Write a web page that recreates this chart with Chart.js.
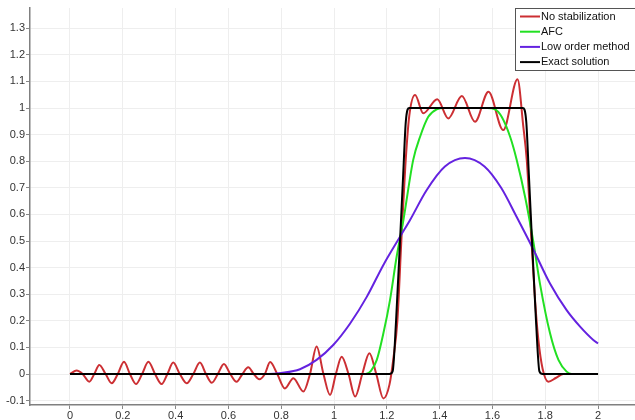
<!DOCTYPE html>
<html>
<head>
<meta charset="utf-8">
<script src="https://cdn.jsdelivr.net/npm/chart.js@4/dist/chart.umd.min.js"></script>
<style>
  html, body { margin: 0; padding: 0; background: #fff; }
  canvas { display: block; }
</style>
</head>
<body>
<canvas id="c" width="635" height="420"></canvas>
<script>
// ---- Data ----
const seriesNames = ["No stabilization", "AFC", "Low order method", "Exact solution"];

const noStabX = [0, 0.025, 0.048, 0.073, 0.092, 0.111, 0.135, 0.158, 0.181, 0.2045, 0.227, 0.25, 0.273, 0.297, 0.322, 0.347, 0.369, 0.391, 0.416, 0.442, 0.467, 0.492, 0.515, 0.537, 0.56, 0.583, 0.607, 0.631, 0.653, 0.675, 0.696, 0.717, 0.738, 0.758, 0.785, 0.814, 0.846, 0.884, 0.909, 0.934, 0.96, 0.985, 1.007, 1.029, 1.055, 1.08, 1.107, 1.134, 1.16, 1.187, 1.21, 1.225, 1.24, 1.255, 1.27, 1.285, 1.307, 1.338, 1.391, 1.433, 1.484, 1.534, 1.585, 1.641, 1.695, 1.717, 1.73, 1.748, 1.762, 1.774, 1.79, 1.812, 1.84, 1.869, 2.0];
const noStabY = [0, 0.013, 0, -0.029, 0, 0.034, 0, -0.035, 0, 0.046, 0, -0.038, 0, 0.046, 0, -0.038, 0, 0.043, 0, -0.035, 0, 0.043, 0, -0.033, 0, 0.038, 0, -0.029, 0, 0.025, 0, -0.02, 0, 0.045, 0, -0.054, -0.016, -0.066, 0, 0.103, 0, -0.079, 0, 0.065, 0, -0.085, 0, 0.078, 0, -0.092, -0.04, 0.06, 0.2, 0.5, 0.78, 0.97, 1.049, 0.98, 1.033, 0.961, 1.045, 0.948, 1.061, 0.917, 1.108, 0.93, 0.805, 0.5, 0.27, 0.128, 0.02, -0.029, -0.015, 0, 0];

const afcX = [0, 1.12, 1.14, 1.162, 1.187, 1.212, 1.237, 1.263, 1.3, 1.326, 1.357, 1.389, 1.42, 1.58, 1.61, 1.635, 1.667, 1.692, 1.725, 1.755, 1.78, 1.818, 1.85, 1.881, 1.9, 2.0];
const afcY = [0, 0, 0.012, 0.053, 0.153, 0.278, 0.44, 0.58, 0.805, 0.892, 0.967, 0.995, 1.0, 1.0, 0.995, 0.967, 0.892, 0.805, 0.66, 0.497, 0.34, 0.154, 0.053, 0.009, 0, 0];

const lowX = [0, 0.75, 0.8, 0.871, 0.934, 0.997, 1.061, 1.124, 1.187, 1.25, 1.288, 1.35, 1.42, 1.496, 1.57, 1.633, 1.692, 1.754, 1.818, 1.881, 1.932, 1.982, 2.0];
const lowY = [0, 0, 0.004, 0.018, 0.053, 0.109, 0.19, 0.29, 0.41, 0.516, 0.579, 0.69, 0.78, 0.812, 0.78, 0.7, 0.59, 0.47, 0.34, 0.24, 0.178, 0.128, 0.115];

const exactX = [0, 1.21, 1.222, 1.235, 1.25, 1.262, 1.272, 1.285, 1.715, 1.728, 1.738, 1.75, 1.765, 1.778, 1.79, 2.0];
const exactY = [0, 0, 0.01, 0.2, 0.5, 0.75, 0.95, 1, 1, 0.95, 0.75, 0.5, 0.2, 0.01, 0, 0];

const xTickValues = [0, 0.2, 0.4, 0.6, 0.8, 1, 1.2, 1.4, 1.6, 1.8, 2];
const yTickValues = [-0.1, 0, 0.1, 0.2, 0.3, 0.4, 0.5, 0.6, 0.7, 0.8, 0.9, 1, 1.1, 1.2, 1.3];

// ---- Build chart ----
const colors = ["#cc2f33", "#22e022", "#6422e0", "#000000"];
const xs = [noStabX, afcX, lowX, exactX];
const ys = [noStabY, afcY, lowY, exactY];

function pts(x, y) { return x.map((v, i) => ({ x: v, y: y[i] })); }

const datasets = seriesNames.map((name, i) => ({
  label: name,
  data: pts(xs[i], ys[i]),
  showLine: true,
  borderColor: colors[i],
  backgroundColor: colors[i],
  borderWidth: 2,
  pointRadius: 0,
  cubicInterpolationMode: 'monotone',
  fill: false,
  order: 4 - i
}));

const fmt = v => String(Number(v.toFixed(2)));

const legendPlugin = {
  id: 'boxLegend',
  afterDraw(chart) {
    const ctx = chart.ctx;
    ctx.save();
    const bx = 515.5, by = 8.5, bw = 130, bh = 62;
    ctx.fillStyle = '#ffffff';
    ctx.fillRect(bx, by, bw, bh);
    ctx.strokeStyle = '#555555';
    ctx.lineWidth = 1;
    ctx.strokeRect(bx, by, bw, bh);
    ctx.font = '11px "Liberation Sans", Arial, sans-serif';
    ctx.textBaseline = 'middle';
    ctx.fillStyle = '#111';
    chart.data.datasets.forEach((ds, i) => {
      const yy = 16.5 + i * 15.2;
      ctx.strokeStyle = ds.borderColor;
      ctx.lineWidth = 2;
      ctx.beginPath();
      ctx.moveTo(520, yy);
      ctx.lineTo(540, yy);
      ctx.stroke();
      ctx.fillStyle = '#111';
      ctx.fillText(ds.label, 541, yy);
    });
    ctx.restore();
  }
};

new Chart(document.getElementById('c'), {
  type: 'scatter',
  data: { datasets },
  options: {
    responsive: false,
    animation: false,
    devicePixelRatio: 1,
    layout: { padding: { top: 8, right: 0, left: 0, bottom: 0 } },
    plugins: { legend: { display: false }, tooltip: { enabled: false } },
    scales: {
      x: {
        type: 'linear',
        min: -0.1515,
        max: 2.14,
        afterBuildTicks: s => { s.ticks = xTickValues.map(v => ({ value: v })); },
        afterFit: s => { s.height = 15; },
        ticks: {
          callback: v => fmt(v),
          font: { family: '"Liberation Sans", Arial, sans-serif', size: 11 },
          color: '#333',
          padding: 0,
          maxRotation: 0,
          autoSkip: false
        },
        grid: { color: '#eeeeee', lineWidth: 1, tickLength: 4, tickColor: '#888888', drawTicks: true },
        border: { display: true, color: '#808080', width: 1.5 }
      },
      y: {
        type: 'linear',
        min: -0.1165,
        max: 1.376,
        afterBuildTicks: s => { s.ticks = yTickValues.map(v => ({ value: v })); },
        afterFit: s => { s.width = 30; },
        ticks: {
          callback: v => fmt(v),
          font: { family: '"Liberation Sans", Arial, sans-serif', size: 11 },
          color: '#333',
          padding: 1,
          autoSkip: false
        },
        grid: { color: '#eeeeee', lineWidth: 1, tickLength: 4, tickColor: '#888888', drawTicks: true },
        border: { display: true, color: '#808080', width: 1.5 }
      }
    }
  },
  plugins: [legendPlugin]
});
</script>
</body>
</html>
